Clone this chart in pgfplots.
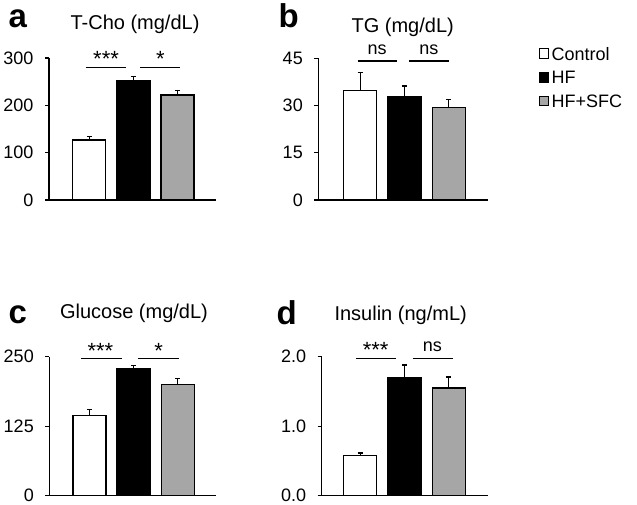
\documentclass[border=0pt]{standalone}
\usepackage{fontspec}
\setmainfont{Liberation Sans}
\usepackage{pgfplots}
\pgfplotsset{compat=1.18}
\definecolor{sfcgray}{RGB}{166,166,166}
\pgfplotsset{
  panel/.style={
    scale only axis, anchor=south west,
    axis x line=bottom, axis y line=left,
    axis line style={line width=1.3pt,-},
    xtick=\empty,
    ytick style={line width=1.3pt, black},
    tick align=outside, major tick length=4pt,
    ymin=0, clip=false,
    tick label style={font=\fontsize{18}{18}\selectfont},
    /pgf/number format/assume math mode=true,
    yticklabel style={xshift=-8pt, inner ysep=0pt},
    ybar, bar width=33pt, bar shift=0pt,
  },
  errs/.style={error bars/.cd, y dir=plus, y explicit,
    error bar style={line width=1.3pt, black},
    error mark options={rotate=90, line width=1.3pt, mark size=2.5pt, black}},
  ctrl/.style={fill=white, draw=black, line width=1.2pt, errs,
    /pgfplots/legend image code/.code={\filldraw[fill=white,draw=black,line width=1pt] (0pt,-2.7pt) rectangle (9.5pt,6.8pt);}},
  hf/.style={fill=black, draw=black, line width=1.2pt, errs,
    /pgfplots/legend image code/.code={\filldraw[fill=black,draw=black,line width=1pt] (0pt,-2.7pt) rectangle (9.5pt,6.8pt);}},
  sfc/.style={fill=sfcgray, draw=black, line width=1.2pt, errs,
    /pgfplots/legend image code/.code={\filldraw[fill=sfcgray,draw=black,line width=1pt] (0pt,-2.7pt) rectangle (9.5pt,6.8pt);}},
}
\newcommand{\tfont}{\fontsize{20}{20}\selectfont}
\newcommand{\sfont}{\fontsize{22}{22}\selectfont}
\newcommand{\nfont}{\fontsize{18}{18}\selectfont}
\newcommand{\lfont}{\fontsize{33}{33}\selectfont\bfseries}
\begin{document}
\begin{tikzpicture}
\useasboundingbox (0pt,0pt) rectangle (637pt,504pt);
% ---------- panel a
\begin{axis}[panel, at={(49pt,304pt)}, width=167pt, height=142pt,
  xmin=0.086, xmax=3.873, ymax=300, ytick={0,100,200,300}]
\addplot[ctrl] coordinates {(1,126.8) +- (0,7.8)};
\addplot[hf] coordinates {(2,252.0) +- (0,8.5)};
\addplot[sfc] coordinates {(3,221.8) +- (0,9.0)};
\draw[line width=1.3pt] (axis cs:0.92,279.5) -- (axis cs:1.83,279.5);
\draw[line width=1.3pt] (axis cs:2.15,279.5) -- (axis cs:3.06,279.5);
\node[anchor=base, font=\sfont, inner sep=0pt] at (axis cs:1.38,281) {***};
\node[anchor=base, font=\sfont, inner sep=0pt] at (axis cs:2.61,281) {*};
\end{axis}
% ---------- panel b
\begin{axis}[panel, at={(318.3pt,304pt)}, width=169.4pt, height=141.7pt,
  xmin=0.054, xmax=3.878, ymax=45, ytick={0,15,30,45},
  legend style={at={(axis description cs:1.281,1.095)}, anchor=north west,
    draw=none, fill=none, font=\nfont,
    nodes={inner sep=0pt, text height=13pt, text depth=4pt},
    row sep=6.8pt, column sep=2.5pt},
  legend cell align=left]
\addplot[ctrl] coordinates {(1,34.9) +- (0,5.6)};
\addlegendentry{Control}
\addplot[hf] coordinates {(2,32.7) +- (0,3.5)};
\addlegendentry{HF}
\addplot[sfc] coordinates {(3,29.4) +- (0,2.5)};
\addlegendentry{HF+SFC}
\draw[line width=1.3pt] (axis cs:0.943,44.14) -- (axis cs:1.824,44.14);
\draw[line width=1.3pt] (axis cs:2.10,44.14) -- (axis cs:3.01,44.14);
\node[anchor=base, font=\nfont, inner sep=0pt] at (axis cs:1.38,46.1) {ns};
\node[anchor=base, font=\nfont, inner sep=0pt] at (axis cs:2.55,46.1) {ns};
\end{axis}
% ---------- panel c
\begin{axis}[panel, at={(49.3pt,8.3pt)}, width=166.7pt, height=139pt,
  xmin=0.09, xmax=3.87, ymax=250, ytick={0,125,250}]
\addplot[ctrl] coordinates {(1,144.9) +- (0,10.0)};
\addplot[hf] coordinates {(2,228.2) +- (0,6.6)};
\addplot[sfc] coordinates {(3,199.8) +- (0,10.7)};
\draw[line width=1.3pt] (axis cs:0.82,246.5) -- (axis cs:1.73,246.5);
\draw[line width=1.3pt] (axis cs:2.10,246.5) -- (axis cs:3.03,246.5);
\node[anchor=base, font=\sfont, inner sep=0pt] at (axis cs:1.25,247.5) {***};
\node[anchor=base, font=\sfont, inner sep=0pt] at (axis cs:2.57,247.5) {*};
\end{axis}
% ---------- panel d
\begin{axis}[panel, at={(321.7pt,8.3pt)}, width=166pt, height=139pt,
  xmin=0.131, xmax=3.878, ymax=2, ytick={0,1,2},
  yticklabel style={/pgf/number format/.cd, fixed, fixed zerofill, precision=1}]
\addplot[ctrl] coordinates {(1,0.573) +- (0,0.04)};
\addplot[hf] coordinates {(2,1.70) +- (0,0.18)};
\addplot[sfc] coordinates {(3,1.55) +- (0,0.16)};
\draw[line width=1.3pt] (axis cs:0.905,1.977) -- (axis cs:1.81,1.977);
\draw[line width=1.3pt] (axis cs:2.185,1.977) -- (axis cs:3.09,1.977);
\node[anchor=base, font=\sfont, inner sep=0pt] at (axis cs:1.35,1.99) {***};
\node[anchor=base, font=\nfont, inner sep=0pt] at (axis cs:2.63,2.07) {ns};
\end{axis}
% ---------- titles and letters
\node[font=\tfont] at (135pt,480pt) {T-Cho (mg/dL)};
\node[font=\tfont] at (402.7pt,477pt) {TG (mg/dL)};
\node[font=\tfont] at (134pt,191pt) {Glucose (mg/dL)};
\node[font=\tfont] at (400.7pt,189pt) {Insulin (ng/mL)};
\node[anchor=base west, font=\lfont, inner sep=0pt] at (8.5pt,476.7pt) {a};
\node[anchor=base west, font=\lfont, inner sep=0pt] at (278.5pt,476.7pt) {b};
\node[anchor=base west, font=\lfont, inner sep=0pt] at (8.5pt,180.7pt) {c};
\node[anchor=base west, font=\lfont, inner sep=0pt] at (276.5pt,180pt) {d};
\end{tikzpicture}
\end{document}
